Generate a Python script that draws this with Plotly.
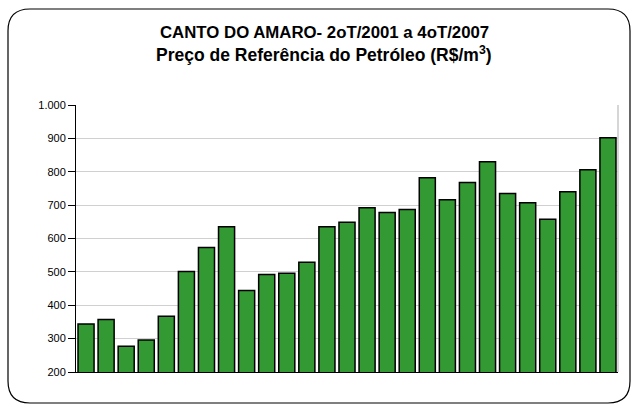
import plotly.graph_objects as go

# trimestres 2oT/2001 .. 4oT/2007 (não exibidos no eixo)
trimestres = (
    ["2oT/2001", "3oT/2001", "4oT/2001"]
    + [f"{q}oT/{a}" for a in range(2002, 2008) for q in range(1, 5)]
)
precos = [344, 357, 277, 296, 367, 501, 573, 635, 444, 492, 496, 529,
          635, 649, 692, 678, 687, 782, 716, 768, 830, 735, 707, 658,
          740, 806, 902]
y_ticks = [200, 300, 400, 500, 600, 700, 800, 900, 1000]
titulo_1 = "CANTO DO AMARO- 2oT/2001 a 4oT/2007"
titulo_2 = "Preço de Referência do Petróleo (R$/m<sup>3</sup>)"

W, H = 634, 405
L, R, T, B = 76, 16, 105, 33
FONT = "Liberation Sans, Arial, sans-serif"

fig = go.Figure(go.Bar(
    x=trimestres, y=precos,
    marker=dict(color="#339933", line=dict(color="#000000", width=1.5)),
    hovertemplate="%{x}<br>%{y}<extra></extra>",
))


def _px(x):
    return (x - L) / (W - L - R)


def _py(y):
    return (H - B - y) / (H - T - B)


# moldura arredondada em volta do gráfico
x0, x1, y0, y1, r = 8, 630, 9, 403, 22
path = (
    f"M {_px(x0 + r)} {_py(y0)} L {_px(x1 - r)} {_py(y0)} "
    f"Q {_px(x1)} {_py(y0)} {_px(x1)} {_py(y0 + r)} "
    f"L {_px(x1)} {_py(y1 - r)} Q {_px(x1)} {_py(y1)} {_px(x1 - r)} {_py(y1)} "
    f"L {_px(x0 + r)} {_py(y1)} Q {_px(x0)} {_py(y1)} {_px(x0)} {_py(y1 - r)} "
    f"L {_px(x0)} {_py(y0 + r)} Q {_px(x0)} {_py(y0)} {_px(x0 + r)} {_py(y0)} Z"
)
fig.add_shape(type="path", path=path, xref="paper", yref="paper",
              line=dict(color="#000000", width=1.2), layer="below")
fig.add_shape(type="line", xref="paper", yref="paper", x0=1, x1=1, y0=0, y1=1,
              line=dict(color="#c8c8c8", width=1.5))

for texto, yc, tam in [(titulo_1, 32.5, 16.8), (titulo_2, 54, 17.5)]:
    fig.add_annotation(
        text=f"<b>{texto}</b>", xref="paper", yref="paper",
        x=_px(324), y=_py(yc), xanchor="center", yanchor="middle",
        showarrow=False, font=dict(size=tam, family=FONT, color="#000000"),
    )

fig.update_layout(
    width=W, height=H,
    margin=dict(l=L, r=R, t=T, b=B),
    plot_bgcolor="#ffffff",
    paper_bgcolor="#ffffff",
    separators=",.",
    font=dict(family=FONT, color="#000000", size=11),
    bargap=0.2,
    showlegend=False,
    xaxis=dict(showticklabels=False, ticks="", showgrid=False,
               showline=True, linecolor="#000000", linewidth=1),
    yaxis=dict(range=[200, 1000], tickvals=y_ticks, tickformat=",d",
               showgrid=True, gridcolor="#d0d0d0", gridwidth=1,
               showline=True, linecolor="#000000", linewidth=1,
               ticks="outside", ticklen=7, tickcolor="#000000",
               zeroline=False, tickfont=dict(size=11)),
)

fig.write_html("out.html", config={"displayModeBar": False},
               post_script="document.body.style.margin='0';")
